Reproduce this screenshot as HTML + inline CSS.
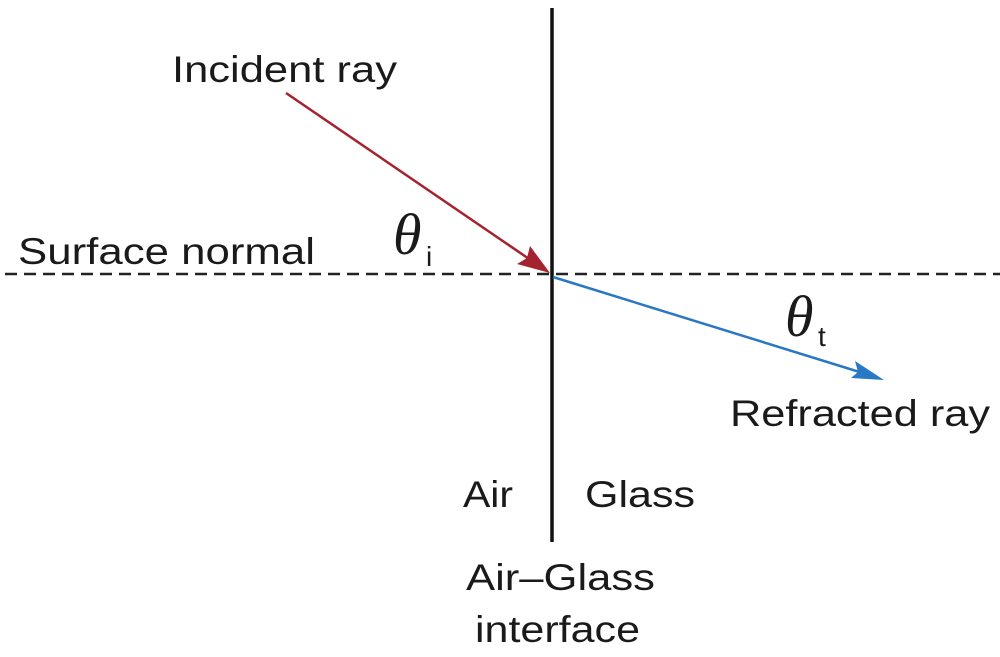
<!DOCTYPE html>
<html><head><style>
body{margin:0;background:#fff}
svg text{font-family:"Liberation Sans",sans-serif;font-size:37px;fill:#1a1a1a}
.th{font-family:"Liberation Serif",serif;font-style:italic;font-size:58px}
</style></head><body>
<svg width="1000" height="652" viewBox="0 0 1000 652" xmlns="http://www.w3.org/2000/svg">
<line x1="5" y1="274" x2="1000" y2="274" stroke="#222" stroke-width="2.5" stroke-dasharray="12,7"/>
<line x1="552" y1="8" x2="552" y2="542" stroke="#111" stroke-width="3.5"/>
<line x1="286" y1="93" x2="535" y2="263" stroke="#a3232e" stroke-width="2.5"/>
<polygon points="550,273 517,264 527,258 530,246" fill="#a3232e"/>
<line x1="553" y1="277" x2="866" y2="374" stroke="#2a78c4" stroke-width="2.5"/>
<polygon points="884,380 851,378 858,372 855,361" fill="#2a78c4"/>
<text x="172" y="82" textLength="225" lengthAdjust="spacingAndGlyphs">Incident ray</text>
<text x="18" y="264" textLength="297" lengthAdjust="spacingAndGlyphs">Surface normal</text>
<text class="th" x="393" y="254">θ</text><text x="426" y="266" style="font-size:28px">i</text>
<text class="th" x="785" y="336">θ</text><text x="818" y="346" style="font-size:28px">t</text>
<text x="730" y="426" textLength="260" lengthAdjust="spacingAndGlyphs">Refracted ray</text>
<text x="463" y="507" textLength="50" lengthAdjust="spacingAndGlyphs">Air</text>
<text x="585" y="507" textLength="110" lengthAdjust="spacingAndGlyphs">Glass</text>
<text x="466" y="590" textLength="189" lengthAdjust="spacingAndGlyphs">Air–Glass</text>
<text x="475" y="642" textLength="165" lengthAdjust="spacingAndGlyphs">interface</text>
</svg>
</body></html>
